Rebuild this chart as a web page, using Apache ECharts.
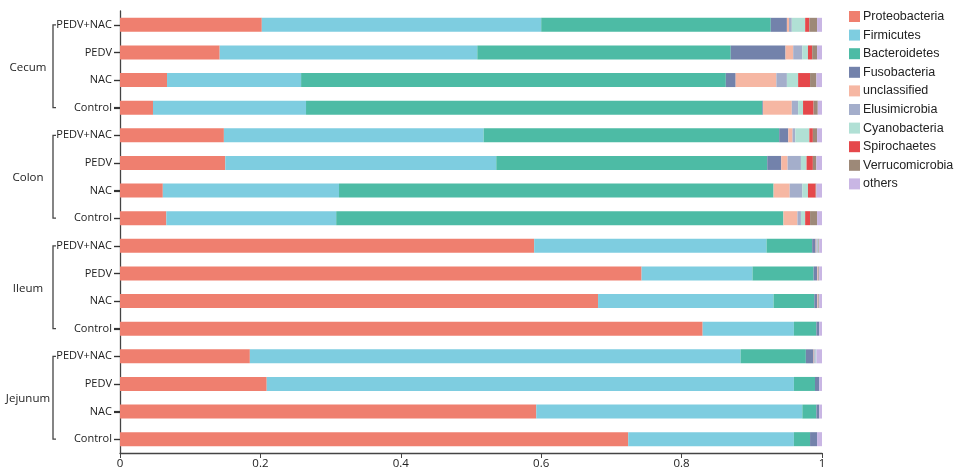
<!DOCTYPE html>
<html>
<head>
<meta charset="utf-8">
<script src="https://cdn.jsdelivr.net/npm/echarts@6/dist/echarts.min.js"></script>
<style>
  html, body { margin: 0; padding: 0; background: #fff; }
  #main { width: 957px; height: 471px; }
</style>
</head>
<body>
<div id="main"></div>
<script>
// sites and treatments, top to bottom
const sites = ["Cecum", "Colon", "Ileum", "Jejunum"];
const treatments = ["PEDV+NAC", "PEDV", "NAC", "Control"];
const xTicks = [0, 0.2, 0.4, 0.6, 0.8, 1];

const phyla = ["Proteobacteria", "Firmicutes", "Bacteroidetes", "Fusobacteria", "unclassified",
  "Elusimicrobia", "Cyanobacteria", "Spirochaetes", "Verrucomicrobia", "others"];
const colors = ["#ef7f6f", "#7ecde0", "#4dbba5", "#7382ab", "#f6b7a3",
  "#a4aecb", "#b1e0d5", "#e5484b", "#9d8978", "#c9b6e4"];

// relative abundance, one value per bar (same order as site x treatment)
const proteobacteria = [0.202, 0.142, 0.067, 0.047, 0.148, 0.150, 0.061, 0.066, 0.590, 0.743, 0.681, 0.830, 0.185, 0.209, 0.593, 0.724];
const firmicutes = [0.398, 0.367, 0.191, 0.218, 0.370, 0.386, 0.251, 0.242, 0.331, 0.158, 0.250, 0.130, 0.699, 0.751, 0.379, 0.236];
const bacteroidetes = [0.327, 0.361, 0.605, 0.650, 0.421, 0.386, 0.619, 0.637, 0.065, 0.087, 0.058, 0.032, 0.093, 0.030, 0.020, 0.023];
const fusobacteria = [0.023, 0.078, 0.014, 0.001, 0.013, 0.020, 0.000, 0.000, 0.005, 0.005, 0.004, 0.004, 0.011, 0.006, 0.004, 0.010];
const unclassified = [0.003, 0.011, 0.058, 0.041, 0.006, 0.009, 0.023, 0.020, 0.001, 0.001, 0.001, 0, 0.001, 0, 0, 0];
const elusimicrobia = [0.004, 0.013, 0.015, 0.009, 0.004, 0.019, 0.018, 0.005, 0.002, 0.001, 0.001, 0, 0.002, 0, 0, 0];
const cyanobacteria = [0.019, 0.008, 0.016, 0.007, 0.020, 0.008, 0.008, 0.006, 0.001, 0, 0, 0, 0.001, 0, 0, 0];
const spirochaetes = [0.006, 0.006, 0.017, 0.015, 0.005, 0.009, 0.011, 0.007, 0, 0, 0, 0, 0, 0, 0, 0];
const verrucomicrobia = [0.011, 0.007, 0.009, 0.006, 0.006, 0.005, 0.001, 0.010, 0.001, 0.001, 0.001, 0, 0, 0, 0, 0];
const others = [0.007, 0.007, 0.008, 0.006, 0.007, 0.008, 0.008, 0.007, 0.004, 0.004, 0.004, 0.004, 0.008, 0.004, 0.004, 0.007];

const values = [proteobacteria, firmicutes, bacteroidetes, fusobacteria, unclassified,
  elusimicrobia, cyanobacteria, spirochaetes, verrucomicrobia, others];

// unique keys so repeated treatment names stay separate bars
let categories = [];
sites.forEach(s => treatments.forEach(t => categories.push(s + "|" + t)));

const font = "'Open Sans', 'Liberation Sans', sans-serif";

let chart = echarts.init(document.getElementById("main"), null, { renderer: "canvas" });

let option = {
  animation: false,
  color: colors,
  grid: { left: 120, right: 135, top: 11, bottom: 18, containLabel: false },
  legend: {
    orient: "vertical",
    left: 844,
    top: 5,
    icon: "rect",
    itemWidth: 11,
    itemHeight: 11,
    itemGap: 5.6,
    textStyle: { fontFamily: "'Liberation Sans', Arial, sans-serif", fontSize: 12.5, color: "#222", padding: [0, 0, 0, -2] },
    data: phyla
  },
  xAxis: {
    type: "value",
    min: 0,
    max: 1,
    interval: 0.2,
    splitLine: { show: false },
    axisLine: { show: true, lineStyle: { color: "#444", width: 1.3 } },
    axisTick: { show: true, length: 5, lineStyle: { color: "#444" } },
    axisLabel: {
      fontFamily: font, fontSize: 11.5, color: "#222", margin: 5,
      formatter: v => xTicks.includes(+v.toFixed(1)) ? String(+v.toFixed(1)) : ""
    }
  },
  yAxis: {
    type: "category",
    inverse: true,
    data: categories,
    axisLine: { show: true, lineStyle: { color: "#444", width: 1.3 } },
    axisTick: { show: true, alignWithLabel: true, length: 6, lineStyle: { color: "#333", width: 1.2 } },
    axisLabel: {
      fontFamily: font, fontSize: 11, color: "#222", margin: 8,
      formatter: v => v.split("|")[1]
    }
  },
  series: phyla.map((name, i) => ({
    name: name,
    type: "bar",
    stack: "total",
    barWidth: 14,
    itemStyle: { color: colors[i] },
    emphasis: { disabled: true },
    data: values[i]
  }))
};

chart.setOption(option);

// site brackets and names on the left, placed from the axis scale
function drawGroups() {
  let els = [];
  let xLine = 53;
  let xAxis0 = chart.convertToPixel({ xAxisIndex: 0 }, 0);
  // category ticks at each bar centre
  categories.forEach(c => {
    let y = Math.round(chart.convertToPixel({ yAxisIndex: 0 }, c)) + 0.5;
    els.push({
      type: "line",
      shape: { x1: xAxis0 - 6, y1: y, x2: xAxis0, y2: y },
      style: { stroke: "#333", lineWidth: 1.2 },
      silent: true
    });
  });
  sites.forEach(s => {
    let y0 = chart.convertToPixel({ yAxisIndex: 0 }, s + "|" + treatments[0]);
    let y1 = chart.convertToPixel({ yAxisIndex: 0 }, s + "|" + treatments[treatments.length - 1]);
    els.push({
      type: "polyline",
      shape: { points: [[xLine + 3, y0], [xLine, y0], [xLine, y1], [xLine + 3, y1]] },
      style: { stroke: "#444", lineWidth: 1.3, fill: null },
      silent: true
    });
    els.push({
      type: "text",
      x: 28,
      y: (y0 + y1) / 2 + 1,
      style: {
        text: s, fontFamily: font, fontSize: 11.5, fill: "#222",
        align: "center", verticalAlign: "middle"
      },
      silent: true
    });
  });
  chart.setOption({ graphic: els });
}
drawGroups();
</script>
</body>
</html>
